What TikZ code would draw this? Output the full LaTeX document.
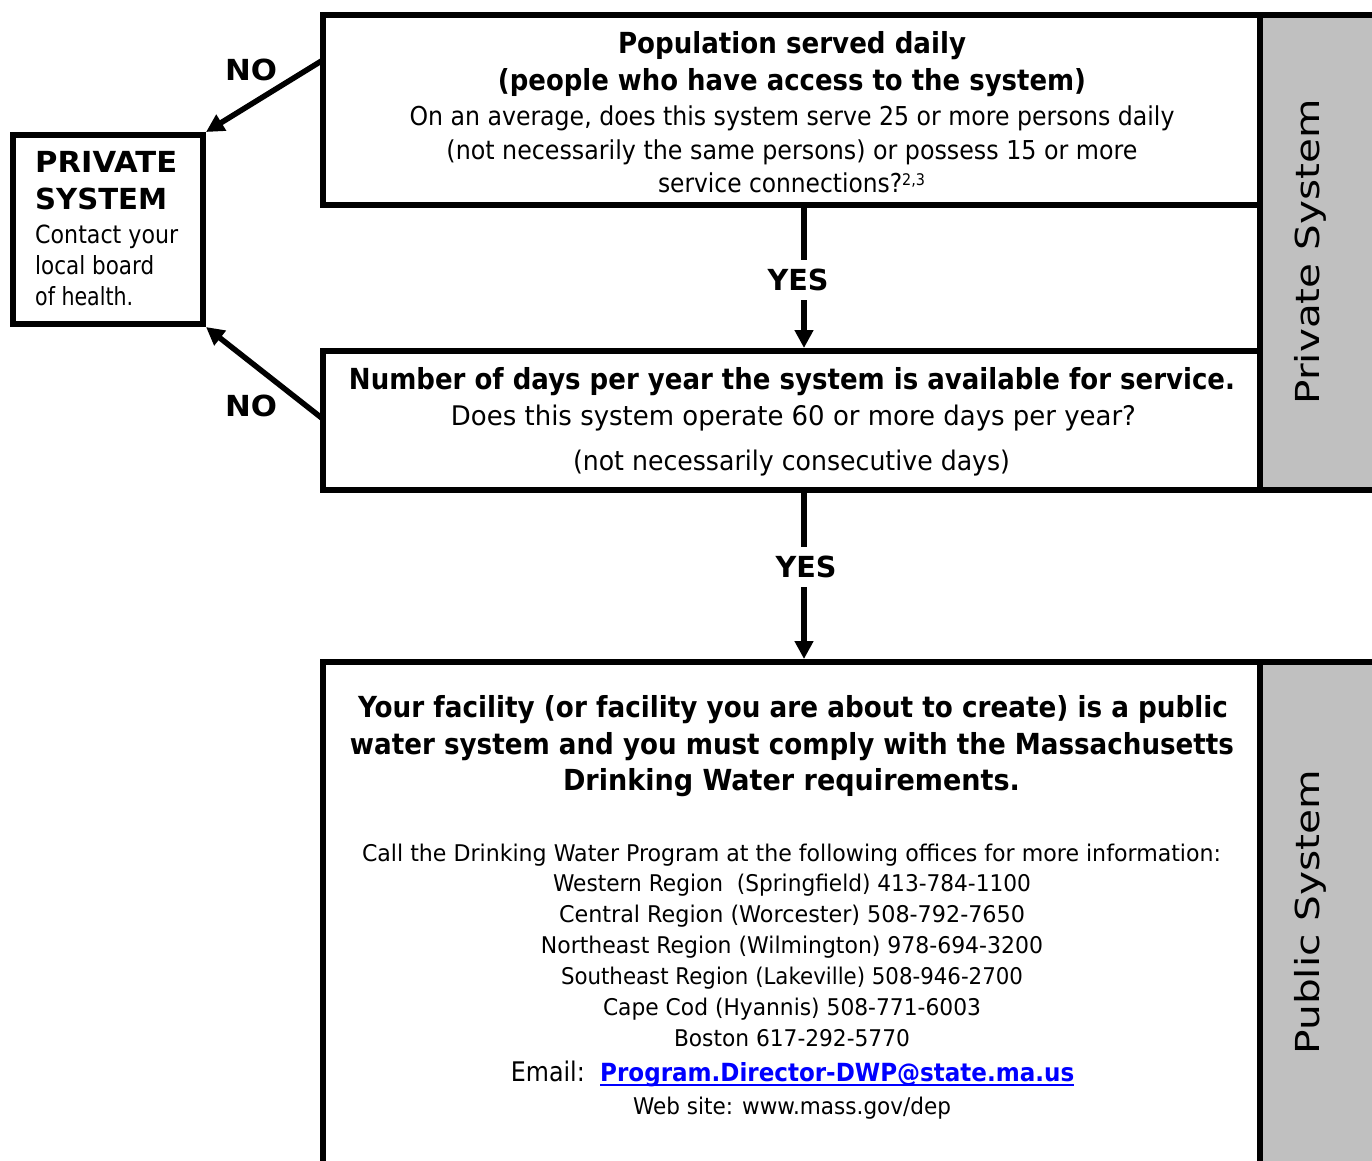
\documentclass[tikz,border=0pt]{standalone}
\usepackage{fontspec}
\setmainfont{DejaVu Sans}
\usepackage{graphicx}
\usetikzlibrary{arrows.meta,calc}
\definecolor{band}{HTML}{C0C0C0}
\definecolor{linkblue}{HTML}{0000FF}
\newcommand{\fitw}[2]{\resizebox{#1pt}{\height}{#2}}
\tikzset{
  box/.style={draw=black, line width=6pt, rectangle, inner sep=0pt},
  flow/.style={line width=5.5pt, -{Triangle[length=18pt,width=18pt]}},
  txt/.style={inner sep=0pt, anchor=base},
  hb/.style={txt, font=\fontsize{29}{35}\selectfont\bfseries},
  rA/.style={txt, font=\fontsize{26}{31}\selectfont},
  rB/.style={txt, font=\fontsize{27}{32}\selectfont},
  rC/.style={txt, font=\fontsize{23}{28}\selectfont},
  rP/.style={inner sep=0pt, anchor=base west, font=\fontsize{25}{30}\selectfont},
  hP/.style={inner sep=0pt, anchor=base west, font=\fontsize{29}{35}\selectfont\bfseries},
  decision/.style={font=\fontsize{29}{35}\selectfont\bfseries, inner xsep=4pt, inner ysep=9pt, fill=white},
  side/.style={rotate=90, inner sep=0pt, font=\fontsize{33}{40}\selectfont},
  edge/.style={line width=6pt, line cap=rect}
}
\begin{document}
\begin{tikzpicture}[x=1pt,y=-1pt]
\useasboundingbox (0,0) rectangle (1372,1160);
\clip (0,0) rectangle (1372,1160);
\fill[white] (0,0) rectangle (1372,1160);

% gray side bands
\fill[band] (1260,15) rectangle (1380,490);
\fill[band] (1260,662) rectangle (1380,1200);
\draw[edge] (1260,15) -- (1380,15);
\draw[edge] (1260,490) -- (1380,490);
\draw[edge] (1260,15) -- (1260,490);
\draw[edge] (1260,662) -- (1380,662);
\draw[edge] (1260,662) -- (1260,1200);

% boxes
\node[box, minimum width=937pt, minimum height=190pt] (q1) at (791.5,110) {};
\node[box, minimum width=937pt, minimum height=139pt] (q2) at (791.5,420.5) {};
\node[box, minimum width=190pt, minimum height=189pt] (priv) at (108,229.5) {};
\node[box, minimum width=937pt, minimum height=538pt] (pub) at (791.5,931) {};

% side labels
\node[side] (s1) at (1310,252) {\fitw{305}{Private System}};
\node[side] (s2) at (1310,912) {\fitw{285}{Public System}};

% question 1 text
\node[hb] (a1) at (792,53) {\fitw{348}{Population served daily}};
\node[hb] (a2) at (792,90) {\fitw{588}{(people who have access to the system)}};
\node[rA] (a3) at (792,125) {\fitw{765}{On an average, does this system serve 25 or more persons daily}};
\node[rA] (a4) at (792,159) {\fitw{691}{(not necessarily the same persons) or possess 15 or more}};
\node[rA] (a5) at (791.5,192) {\fitw{267}{service connections?\raisebox{7pt}{\fontsize{16}{16}\selectfont 2,3}}};

% question 2 text
\node[hb] (b1) at (792,389) {\fitw{886}{Number of days per year the system is available for service.}};
\node[rB] (b2) at (793.5,425) {\fitw{685}{Does this system operate 60 or more days per year?}};
\node[rB] (b3) at (791.5,470) {\fitw{437}{(not necessarily consecutive days)}};

% private system box text
\node[hP] (p1) at (35,172) {\fitw{142}{PRIVATE}};
\node[hP] (p2) at (35,209) {\fitw{132}{SYSTEM}};
\node[rP] (p3) at (35,243) {\fitw{143}{Contact your}};
\node[rP] (p4) at (35,274) {\fitw{119}{local board}};
\node[rP] (p5) at (35,305) {\fitw{98}{of health.}};

% public system text
\node[hb] (c1) at (793,717) {\fitw{870}{Your facility (or facility you are about to create) is a public}};
\node[hb] (c2) at (792,754) {\fitw{884}{water system and you must comply with the Massachusetts}};
\node[hb] (c3) at (791.5,790) {\fitw{457}{Drinking Water requirements.}};
\node[rC] (d1) at (791.5,861) {\fitw{859}{Call the Drinking Water Program at the following offices for more information:}};
\node[rC] (d2) at (792,891) {\fitw{478}{Western Region\ \ (Springfield) 413-784-1100}};
\node[rC] (d3) at (792,922) {\fitw{466}{Central Region (Worcester) 508-792-7650}};
\node[rC] (d4) at (792,953) {\fitw{502}{Northeast Region (Wilmington) 978-694-3200}};
\node[rC] (d5) at (792,984) {\fitw{462}{Southeast Region (Lakeville) 508-946-2700}};
\node[rC] (d6) at (792,1015) {\fitw{378}{Cape Cod (Hyannis) 508-771-6003}};
\node[rC] (d7) at (792,1046) {\fitw{236}{Boston 617-292-5770}};
\node[inner sep=0pt, anchor=base east, font=\fontsize{27}{32}\selectfont] (em) at (585,1081) {\fitw{74}{Email:}};
\node[inner sep=0pt, anchor=base west, font=\fontsize{25}{30}\selectfont\bfseries, text=linkblue] (link) at (600,1081) {\fitw{474}{Program.Director-DWP@state.ma.us}};
\draw[linkblue, line width=2pt] ($(link.base west)+(0,4)$) -- ($(link.base east)+(0,4)$);
\node[rC] (d8) at (792,1114) {\fitw{318}{Web site: www.mass.gov/dep}};

% connectors
\coordinate (n1s) at ($(q1.north west)+(3,48)$);
\coordinate (n2s) at ($(q2.north west)+(3,71)$);
\draw[flow] (n1s) -- (priv.north east);
\draw[flow] (n2s) -- (priv.south east);
\draw[flow] (q1.south -| 804,0) -- (q2.north -| 804,0);
\draw[flow] (q2.south -| 804,0) -- (pub.north -| 804,0);

% decision labels
\node[hb] (no1) at (251,80) {\fitw{52}{NO}};
\node[hb] (no2) at (251,416) {\fitw{52}{NO}};
\node[decision] (y1) at (798,280) {\fitw{61}{YES}};
\node[decision] (y2) at (806,567) {\fitw{61}{YES}};
\end{tikzpicture}
\end{document}
